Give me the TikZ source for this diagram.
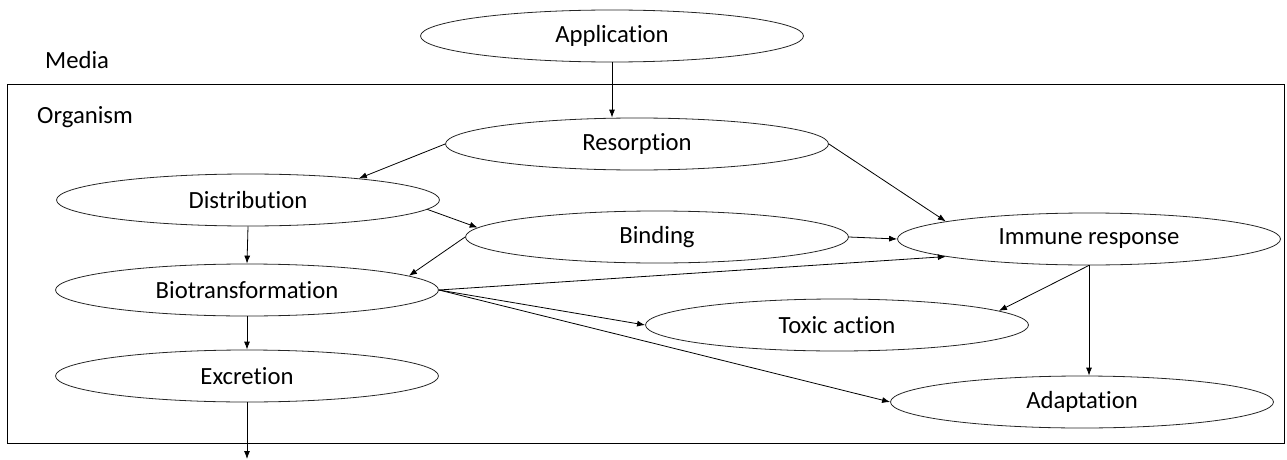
\documentclass[tikz,border=0pt]{standalone}
\usepackage{fontspec}
\setmainfont{Carlito}[Ligatures=NoCommon]
\usetikzlibrary{shapes.geometric,arrows.meta}
\tikzset{
  proc/.style={ellipse, draw=black!85, line width=0.8pt, minimum width=383pt, minimum height=52pt, inner sep=0pt, font=\fontsize{24.7}{30}\selectfont},
  lbl/.style={anchor=west, inner sep=0pt, font=\fontsize{24.7}{30}\selectfont},
  conn/.style={line width=0.8pt, -{Latex[length=8pt,width=6pt]}}
}
\begin{document}
\begin{tikzpicture}[x=1pt,y=-1pt]
\useasboundingbox (0,0) rectangle (1287,460);
\draw[line width=0.8pt] (7,84) rectangle (1284,443);
\node[lbl] (media) at (45,60) {Media};
\node[lbl] (org) at (37,117) {Organism};
\node[proc] (app) at (612,36) {Application};
\node[proc] (res) at (637,144) {Resorption};
\node[proc] (dist) at (248,200) {Distribution};
\node[proc] (bind) at (657,237) {Binding};
\node[proc] (imm) at (1089,239) {Immune response};
\node[proc] (bio) at (247,290) {Biotransformation};
\node[proc] (tox) at (837,325) {Toxic action};
\node[proc] (exc) at (247,376) {Excretion};
\node[proc] (ad) at (1082,402) {Adaptation};
\coordinate (out) at (247,459);
\draw[conn] (app.south) -- (app.south |- res.north);
\draw[conn] (res.west) -- (dist.11);
\draw[conn] (res.east) -- (imm.173);
\draw[conn] (dist.-3.5) -- (bind.177);
\draw[conn] (dist.south) -- (bio.north);
\draw[conn] (bind.west) -- (bio.5.4);
\draw[conn] (bind.east) -- (imm.west);
\draw[conn] (bio.east) -- (imm.187);
\draw[conn] (bio.east) -- (tox.west);
\draw[conn] (bio.east) -- (ad.west);
\draw[conn] (bio.south) -- (exc.north);
\draw[conn] (imm.south) -- (tox.5);
\draw[conn] (imm.south) -- (imm.south |- ad.north);
\draw[conn] (exc.south) -- (out);
\end{tikzpicture}
\end{document}
